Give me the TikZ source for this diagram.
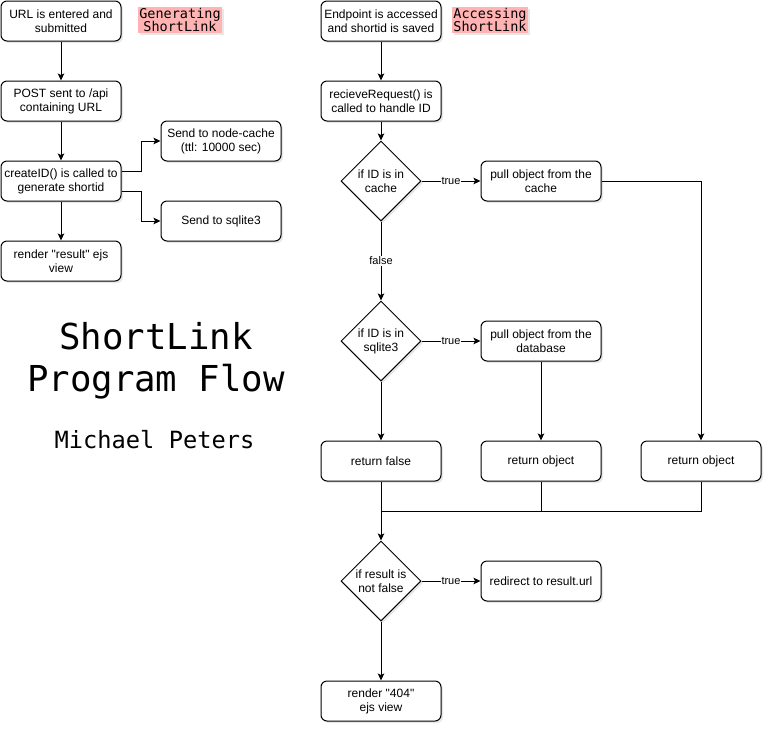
\documentclass[tikz,border=0pt]{standalone}
\usepackage{fontspec}
\setmainfont{Liberation Sans}[Ligatures=TeXOff]
\newfontfamily\monofnt{DejaVu Sans Mono}
\usetikzlibrary{shapes.geometric,arrows.meta,shadows}
\definecolor{pinkbg}{HTML}{FFB3B3}
\begin{document}
\begin{tikzpicture}[x=1pt,y=-1pt,
 every node/.style={font=\fontsize{12}{14}\selectfont},
 shd/.style={drop shadow={opacity=0.18, shadow xshift=2pt, shadow yshift=-2pt}},
 box/.style={draw, line width=1pt, rounded corners=6pt, minimum width=120pt, minimum height=40pt, align=center, inner sep=2pt, fill=white, shd},
 dia/.style={draw, line width=1pt, diamond, minimum width=80pt, minimum height=80pt, inner sep=0pt, fill=white, shd},
 dtxt/.style={align=center, inner sep=0pt},
 arr/.style={-{Stealth[length=7pt,width=6.5pt,inset=1.5pt]}, line width=1pt},
 ln/.style={line width=1pt},
 lbl/.style={fill=white, inner sep=1pt, font=\fontsize{11}{13}\selectfont},
 tag/.style={fill=pinkbg, align=center, inner sep=1.5pt, shd, font=\monofnt\fontsize{13.5}{13.5}\selectfont},
 ttl/.style={anchor=base, inner sep=0pt, font=\monofnt\fontsize{35.7}{40}\selectfont},
 auth/.style={anchor=base, inner sep=0pt, font=\monofnt\fontsize{23.7}{28}\selectfont}
]
\useasboundingbox[fill=white] (0,0) rectangle (772,732);

% ---------- left column ----------
\node[box] (b1) at (61,21) {URL is entered and\\submitted};
\node[box] (b2) at (61,101) {POST sent to /api\\containing URL};
\node[box] (b3) at (61,181) {createID() is called to\\generate shortid};
\node[box] (b4) at (61,261) {render "result" ejs\\view};
\node[box] (nc) at (221,141) {Send to node-cache\\(ttl: 10000 sec)};
\node[box] (sq) at (221,221) {Send to sqlite3};

\node[tag] (tg1) at (180,20) {Generating\\ShortLink};

\draw[arr] (b1.south) -- (b2.north);
\draw[arr] (b2.south) -- (b3.north);
\draw[arr] (b3.south) -- (b4.north);
\draw[arr] ([yshift=10pt]b3.east) -- ++(20,0) |- (nc.west);
\draw[arr] ([yshift=-10pt]b3.east) -- ++(20,0) |- (sq.west);

% ---------- title ----------
\node[ttl] (t1) at (156,349) {ShortLink};
\node[ttl] (t2) at (156,391) {Program Flow};
\node[auth] (t3) at (154.5,448) {Michael Peters};

% ---------- right column ----------
\node[box] (e1) at (381,21) {Endpoint is accessed\\and shortid is saved};
\node[tag] (tg2) at (490,20) {Accessing\\ShortLink};
\node[box] (r1) at (381,101) {recieveRequest() is\\called to handle ID};
\node[dia] (d1) at (381,181) {};
\node[dtxt] at (d1) {if ID is in\\cache};
\node[box] (pc) at (541,181) {pull object from the\\cache};
\node[dia] (d2) at (381,341) {};
\node[dtxt] at (d2) {if ID is in\\sqlite3};
\node[box] (pd) at (541,341) {pull object from the\\database};
\node[box] (rf) at (381,461) {return false};
\node[box] (ro1) at (541,461) {return object};
\node[box] (ro2) at (701,461) {return object};
\coordinate (j) at (381,511);
\node[dia] (d3) at (381,581) {};
\node[dtxt] at (d3) {if result is\\not false};
\node[box] (rd) at (541,581) {redirect to result.url};
\node[box] (r4) at (381,701) {render "404"\\ejs view};

\draw[arr] (e1.south) -- (r1.north);
\draw[arr] (r1.south) -- (d1.north);
\draw[arr] (d1.east) -- node[lbl] {true} (pc.west);
\draw[arr] (d1.south) -- node[lbl] {false} (d2.north);
\draw[arr] (d2.east) -- node[lbl] {true} (pd.west);
\draw[arr] (pc.east) -| (ro2.north);
\draw[arr] (pd.south) -- (ro1.north);
\draw[arr] (d2.south) -- (rf.north);
\draw[arr] (rf.south) -- (d3.north);
\draw[ln] (ro1.south) |- (j);
\draw[ln] (ro2.south) |- (j);
\draw[arr] (d3.east) -- node[lbl] {true} (rd.west);
\draw[arr] (d3.south) -- (r4.north);
\end{tikzpicture}
\end{document}
